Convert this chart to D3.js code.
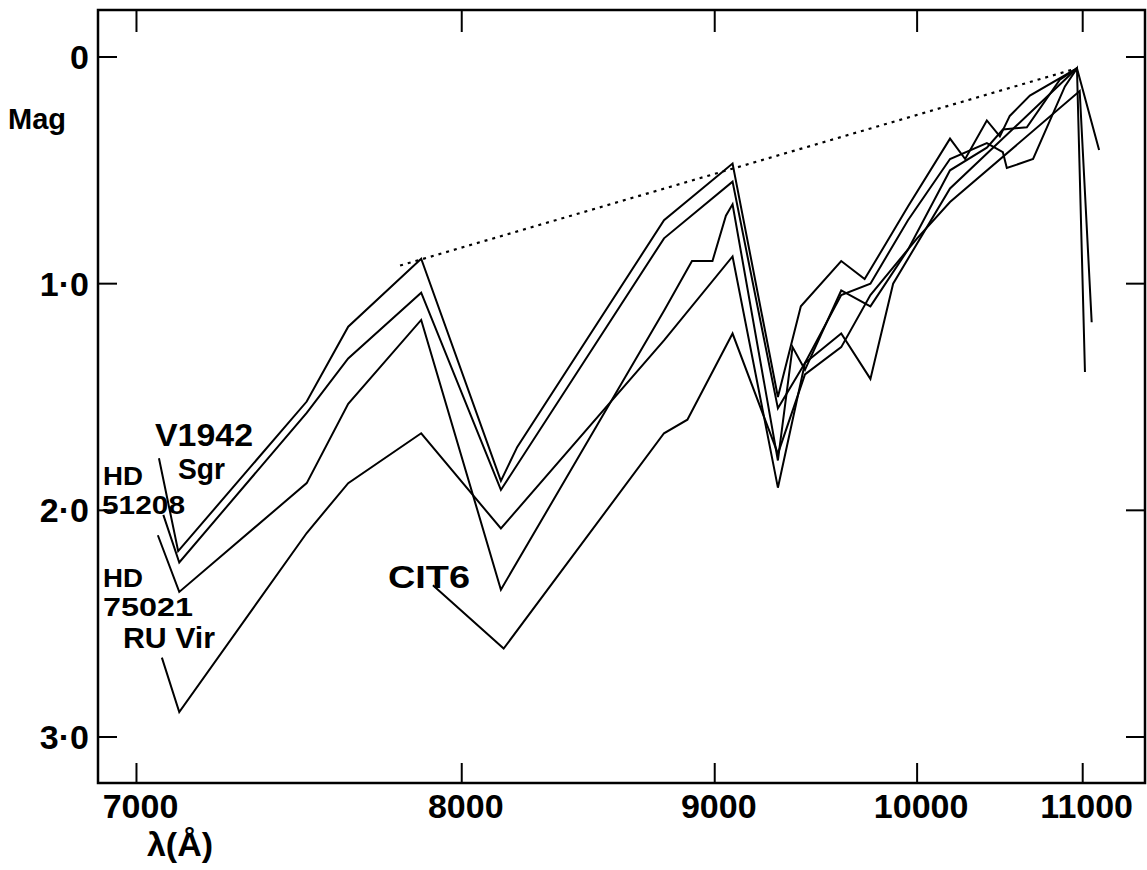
<!DOCTYPE html>
<html><head><meta charset="utf-8">
<script src="https://cdn.jsdelivr.net/npm/d3@7"></script>
<style>body{margin:0;background:#fff}svg{display:block}</style>
</head><body><svg id="c" width="1147" height="870"></svg>
<script>
const xTicks=[7000,8000,9000,10000,11000];
const xTickLabels=["7000","8000","9000","10000","11000"];
const yTicks=[0,1,2,3];
const yTickLabels=["0","1·0","2·0","3·0"];

const v1942Sgr=[[7061,1.77],[7114,2.18],[7490,1.52],[7620,1.19],[7860,0.89],[8140,1.87],[8200,1.72],[8780,0.72],[9080,0.47],[9290,1.50],[9400,1.10],[9600,0.90],[9720,0.98],[9950,0.66],[10184,0.36],[10271,0.45],[10398,0.28],[10476,0.35],[10536,0.26],[10660,0.17],[10962,0.05],[11110,0.41]];
const hd51208=[[7073,2.02],[7117,2.23],[7490,1.57],[7620,1.33],[7860,1.04],[8140,1.91],[8780,0.80],[9080,0.55],[9290,1.55],[9420,1.35],[9600,1.05],[9750,1.00],[9950,0.72],[10184,0.45],[10398,0.38],[10494,0.42],[10518,0.49],[10680,0.45],[10883,0.13],[10962,0.05],[11015,1.39]];
const hd75021=[[7058,2.11],[7117,2.36],[7490,1.88],[7620,1.53],[7860,1.16],[8140,2.35],[8780,1.12],[8900,0.90],[8990,0.90],[9050,0.70],[9080,0.65],[9290,1.78],[9360,1.28],[9420,1.38],[9600,1.03],[9750,1.10],[9950,0.85],[10184,0.50],[10398,0.40],[10494,0.32],[10641,0.31],[10850,0.10],[10962,0.05]];
const ruVir=[[7069,2.65],[7117,2.89],[7490,2.10],[7620,1.88],[7860,1.66],[8140,2.08],[8780,1.25],[9080,0.88],[9290,1.90],[9420,1.35],[9600,1.22],[9750,1.42],[9870,1.00],[10184,0.58],[10962,0.05]];
const cit6=[[7900,2.33],[8150,2.61],[8780,1.66],[8880,1.60],[9080,1.22],[9290,1.75],[9420,1.40],[9600,1.28],[9750,1.05],[10000,0.80],[10184,0.64],[10980,0.15],[11060,1.17]];
const continuum=[[7789,0.92],[10962,0.05]];

const seriesLabels=[
  {text:"V1942",x:155,y:446,size:31,w:98},
  {text:"Sgr",x:178,y:479,size:29,w:47},
  {text:"HD",x:103,y:485,size:26,w:40},
  {text:"51208",x:102,y:514,size:26,w:83},
  {text:"HD",x:103,y:587,size:26,w:40},
  {text:"75021",x:103,y:616,size:26,w:90},
  {text:"RU Vir",x:123,y:648,size:29,w:92},
  {text:"CIT6",x:388,y:588,size:31,w:82}
];

const svg=d3.select("#c");
const x=d3.scalePow().exponent(-1).domain([6898,11430]).range([98,1145]);
const y=d3.scaleLinear().domain([0,3]).range([57,737]);
const fTop=10,fBottom=783,fLeft=98,fRight=1145;

svg.append("rect").attr("x",fLeft).attr("y",fTop).attr("width",fRight-fLeft).attr("height",fBottom-fTop)
  .attr("fill","none").attr("stroke","#000").attr("stroke-width",2.5);

const g=svg.append("g").attr("stroke","#000").attr("stroke-width",2);
xTicks.forEach(t=>{
  g.append("line").attr("x1",x(t)).attr("x2",x(t)).attr("y1",fBottom).attr("y2",fBottom-20);
  g.append("line").attr("x1",x(t)).attr("x2",x(t)).attr("y1",fTop).attr("y2",fTop+22);
});
yTicks.forEach(t=>{
  g.append("line").attr("x1",fLeft).attr("x2",fLeft+19).attr("y1",y(t)).attr("y2",y(t));
  g.append("line").attr("x1",fRight).attr("x2",fRight-19).attr("y1",y(t)).attr("y2",y(t));
});

const font="Liberation Sans, Arial, sans-serif";
svg.append("g").selectAll("text").data(xTicks).join("text")
  .attr("x",d=>x(d)+4).attr("y",818).attr("text-anchor","middle")
  .attr("font-family",font).attr("font-weight","bold").attr("font-size",34)
  .text((d,i)=>xTickLabels[i]);
svg.append("g").selectAll("text").data(yTicks).join("text")
  .attr("x",89).attr("y",d=>y(d)+12).attr("text-anchor","end")
  .attr("font-family",font).attr("font-weight","bold").attr("font-size",34)
  .text((d,i)=>yTickLabels[i]);
svg.append("text").attr("x",8).attr("y",129).attr("font-family",font).attr("font-weight","bold")
  .attr("font-size",29).text("Mag");
svg.append("text").attr("x",180).attr("y",856).attr("text-anchor","middle").attr("font-family",font)
  .attr("font-weight","bold").attr("font-size",34).text("λ(Å)");

const line=d3.line().x(d=>x(d[0])).y(d=>y(d[1]));
[v1942Sgr,hd51208,hd75021,ruVir,cit6].forEach(s=>{
  svg.append("path").attr("d",line(s)).attr("fill","none").attr("stroke","#000")
    .attr("stroke-width",2).attr("stroke-linejoin","miter");
});
svg.append("path").attr("d",line(continuum)).attr("fill","none").attr("stroke","#000")
  .attr("stroke-width",2.2).attr("stroke-dasharray","3,5");

seriesLabels.forEach(l=>{
  svg.append("text").attr("font-family",font).attr("font-weight","bold")
    .attr("font-size",l.size).attr("x",l.x).attr("y",l.y)
    .attr("textLength",l.w).attr("lengthAdjust","spacingAndGlyphs").text(l.text);
});
</script></body></html>
